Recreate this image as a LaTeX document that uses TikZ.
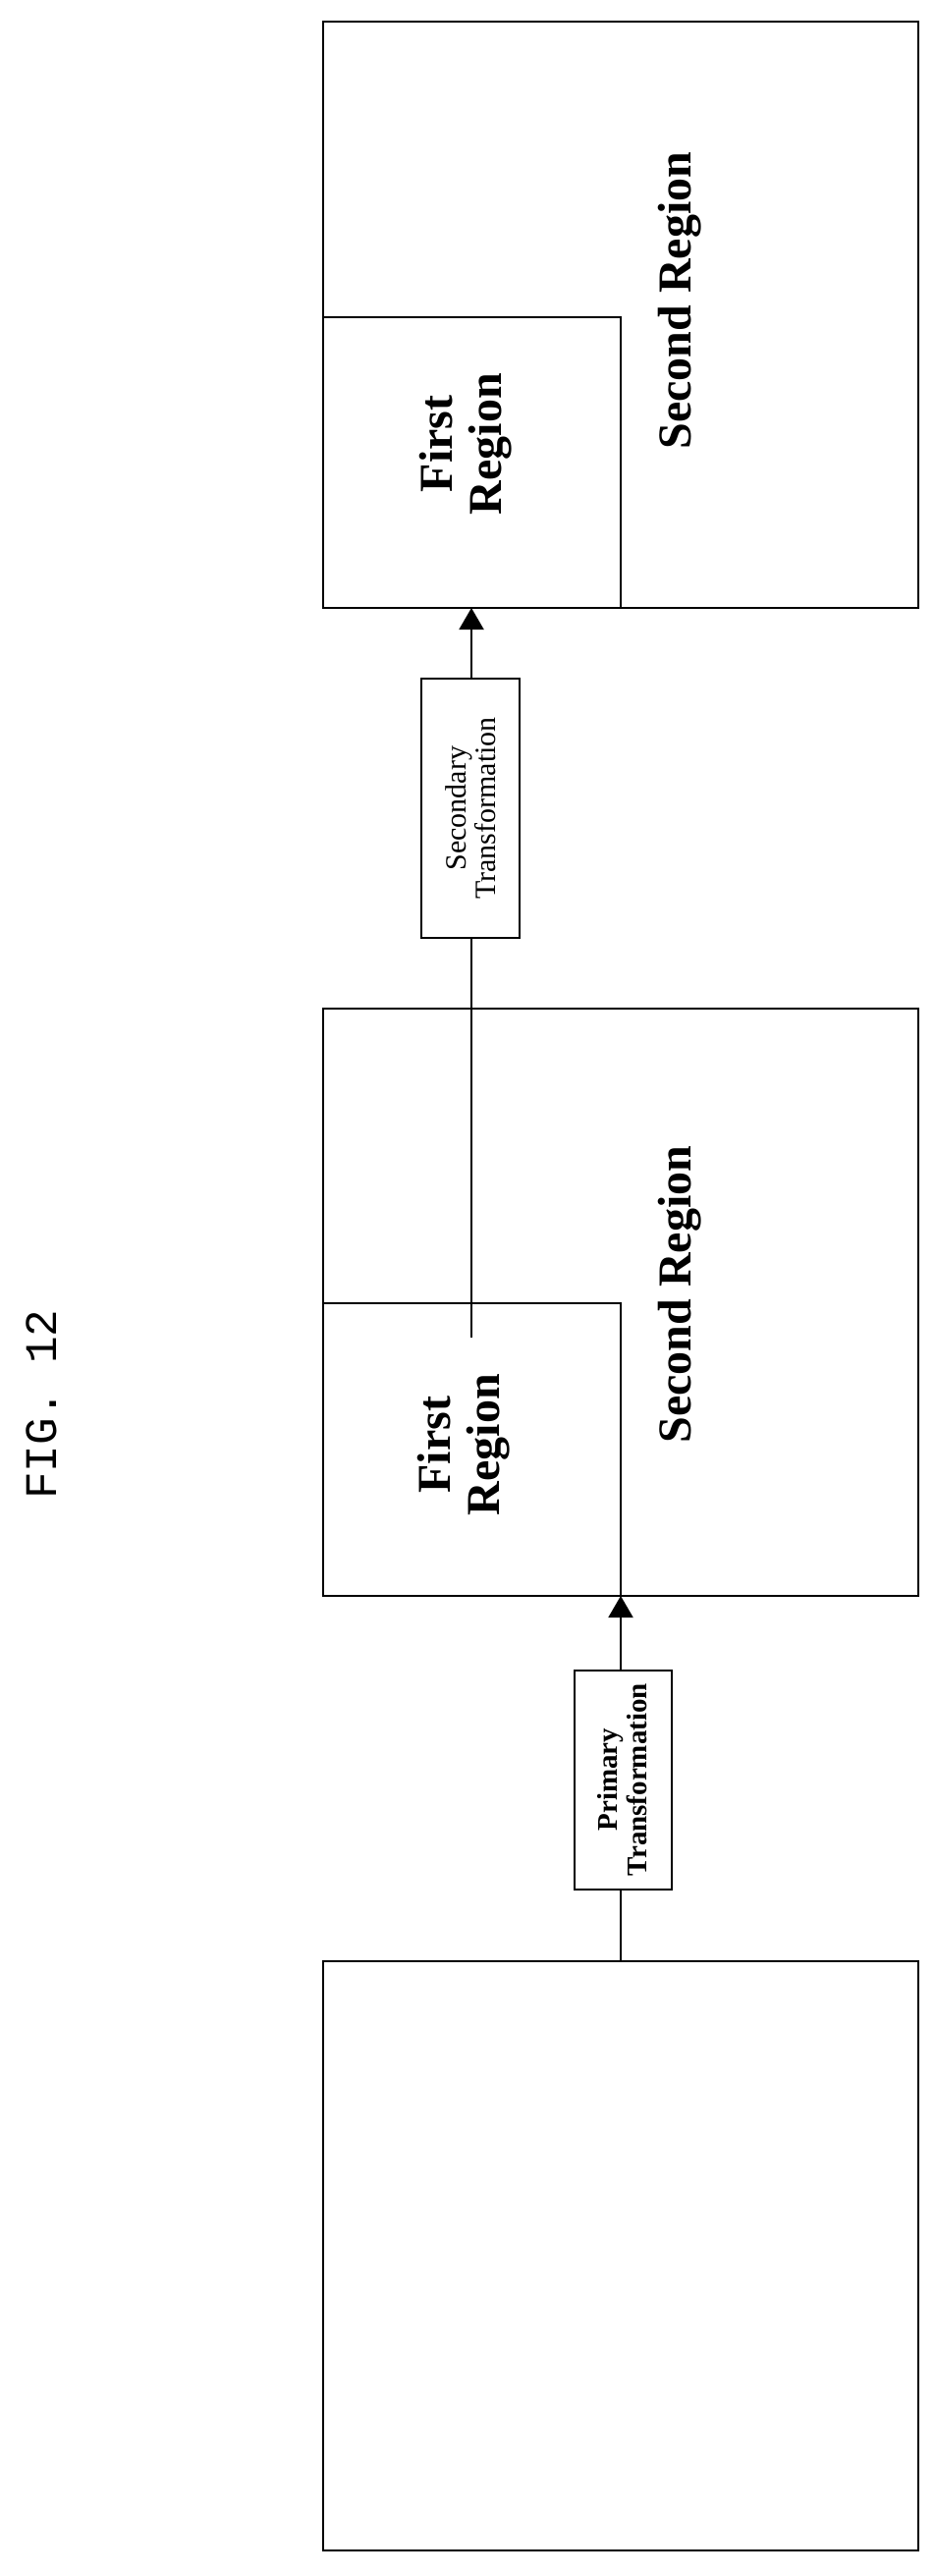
\documentclass[tikz,border=0pt]{standalone}
\usepackage{fontspec}
\setmainfont{Liberation Serif}
\newfontfamily\monof{Liberation Mono}
\usetikzlibrary{arrows.meta}
\begin{document}
\begin{tikzpicture}[x=1pt,y=-1pt,
  box/.style={draw,line width=2pt},
  lbl/.style={rotate=90,font=\bfseries\fontsize{48}{50}\selectfont,align=center},
  tbox/.style={draw,line width=2pt,fill=white,rotate=90,align=center,inner sep=0pt},
  conn/.style={line width=2pt},
  arr/.style={line width=2pt,-{Triangle[width=25pt,length=22pt]}}]
\useasboundingbox (0,0) rectangle (951,2623);
% top picture
\draw[box] (329,22) rectangle (935,619);
\draw[box] (329,323) -- (632,323) -- (632,619);
\node[lbl] (fr1) at (474,452) {First\\Region};
\node[lbl] (sr1) at (692,306) {Second Region};
% middle picture
\draw[box] (329,1027) rectangle (935,1625);
\draw[box] (329,1327) -- (632,1327) -- (632,1625);
\node[lbl] (fr2) at (472,1471) {First\\Region};
\node[lbl] (sr2) at (692,1318) {Second Region};
% bottom picture
\draw[box] (329,1997) rectangle (935,2597);
% transformation boxes
\node[tbox,minimum width=264pt,minimum height=100pt,font=\fontsize{30}{30}\selectfont] (sec) at (479,823) {Secondary\\Transformation};
\node[tbox,minimum width=223pt,minimum height=99pt,font=\bfseries\fontsize{29}{30}\selectfont] (pri) at (634,1812) {Primary\\Transformation};
\coordinate (s0) at (480,1362);
\coordinate (s1) at (480,619);
\coordinate (p0) at (632,1997);
\coordinate (p1) at (632,1625);
\draw[conn] (s0) -- (s0 |- sec.west);
\draw[arr] (s1 |- sec.east) -- (s1);
\draw[conn] (p0) -- (p0 |- pri.west);
\draw[arr] (p1 |- pri.east) -- (p1);
\node[rotate=90,font=\monof\fontsize{46}{46}\selectfont] (fig) at (42,1430) {FIG. 12};
\end{tikzpicture}
\end{document}
